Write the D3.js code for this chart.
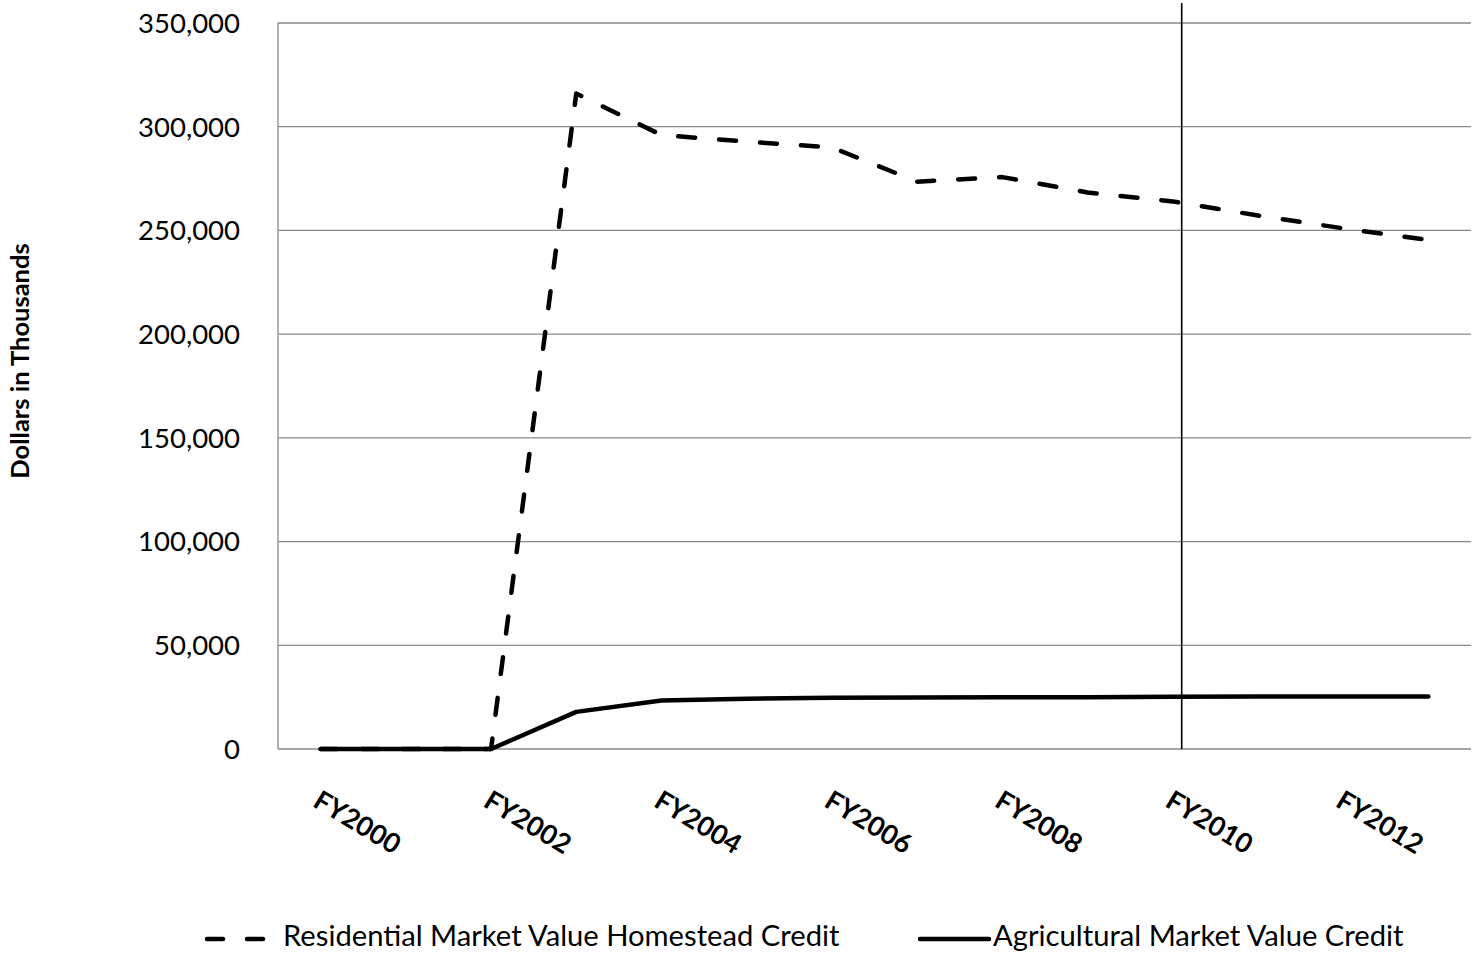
<!DOCTYPE html>
<html>
<head>
<meta charset="utf-8">
<script src="https://cdn.jsdelivr.net/npm/d3@7"></script>
<style>
  html, body { margin: 0; padding: 0; background: #fff; }
  svg { display: block; font-family: Lato, "Open Sans", sans-serif; }
</style>
</head>
<body>
<svg id="chart" width="1474" height="955"></svg>
<script>
// Fiscal years on the category axis
const years = ["FY2000","FY2001","FY2002","FY2003","FY2004","FY2005","FY2006",
               "FY2007","FY2008","FY2009","FY2010","FY2011","FY2012","FY2013"];
// Labels shown on the axis (every other year)
const shownYears = ["FY2000","FY2002","FY2004","FY2006","FY2008","FY2010","FY2012"];
// Credit amounts, dollars in thousands
const residential = [0, 0, 0, 316000, 296000, 292800, 290000, 273500, 275700,
                     268300, 264000, 257200, 251000, 245400];
const agricultural = [0, 0, 0, 17900, 23400, 24200, 24700, 24800, 24900,
                      25000, 25200, 25300, 25300, 25300];
const yTicks = [0, 50000, 100000, 150000, 200000, 250000, 300000, 350000];
const seriesNames = ["Residential Market Value Homestead Credit",
                     "Agricultural Market Value Credit"];
// Reference marker year (vertical rule)
const markerYear = "FY2010";

const svg = d3.select("#chart");
const m = { left: 278, right: 1471, top: 23, bottom: 749 };

const x = d3.scalePoint().domain(years)
  .range([m.left, m.right]).padding(0.5);
const step = x.step();
const y = d3.scaleLinear().domain([0, 350000]).range([m.bottom, m.top]);

// Horizontal gridlines
svg.append("g").selectAll("line").data(yTicks).join("line")
  .attr("x1", m.left).attr("x2", m.right)
  .attr("y1", d => y(d)).attr("y2", d => y(d))
  .attr("stroke", "#898989").attr("stroke-width", 1.3);

// Left axis line
svg.append("line")
  .attr("x1", m.left).attr("x2", m.left)
  .attr("y1", y(350000)).attr("y2", y(0))
  .attr("stroke", "#898989").attr("stroke-width", 1.3);

// Y tick labels
const fmt = d3.format(",");
svg.append("g").selectAll("text").data(yTicks).join("text")
  .attr("x", 240).attr("y", d => y(d))
  .attr("dy", "0.36em")
  .attr("text-anchor", "end")
  .attr("font-size", 27.5).attr("fill", "#000")
  .text(d => fmt(d));

// Y axis title
svg.append("text")
  .attr("transform", `translate(29, 361) rotate(-90)`)
  .attr("text-anchor", "middle")
  .attr("font-size", 25.5).attr("font-weight", "bold")
  .text("Dollars in Thousands");

// X labels, rotated
svg.append("g").selectAll("text").data(shownYears).join("text")
  .attr("transform", d => `translate(${x(d) + 1}, 789) rotate(31)`)
  .attr("dy", "0.72em")
  .attr("text-anchor", "start")
  .attr("font-size", 27).attr("font-weight", "bold")
  .text(d => d);

// Vertical marker rule
svg.append("line")
  .attr("x1", x(markerYear) + step * 0.105).attr("x2", x(markerYear) + step * 0.105)
  .attr("y1", 3).attr("y2", y(0))
  .attr("stroke", "#000").attr("stroke-width", 1.6);

const line = d3.line().x((d, i) => x(years[i])).y(d => y(d));

// Agricultural credit (solid)
svg.append("path").datum(agricultural)
  .attr("d", line).attr("fill", "none")
  .attr("stroke", "#000").attr("stroke-width", 4.5)
  .attr("stroke-linecap", "round").attr("stroke-linejoin", "round");

// Residential credit (dashed)
svg.append("path").datum(residential)
  .attr("d", line).attr("fill", "none")
  .attr("stroke", "#000").attr("stroke-width", 4.5)
  .attr("stroke-dasharray", "17,24")
  .attr("stroke-linecap", "round").attr("stroke-linejoin", "round");

// Legend
const lg = svg.append("g");
lg.append("line").attr("x1", 207).attr("x2", 268).attr("y1", 939).attr("y2", 939)
  .attr("stroke", "#000").attr("stroke-width", 4.5)
  .attr("stroke-dasharray", "16,24").attr("stroke-linecap", "round");
lg.append("text").attr("x", 283).attr("y", 946)
  .attr("font-size", 29.2).text(seriesNames[0]);
lg.append("line").attr("x1", 920).attr("x2", 989).attr("y1", 939).attr("y2", 939)
  .attr("stroke", "#000").attr("stroke-width", 4.5).attr("stroke-linecap", "round");
lg.append("text").attr("x", 993).attr("y", 946)
  .attr("font-size", 29.2).text(seriesNames[1]);
</script>
</body>
</html>
